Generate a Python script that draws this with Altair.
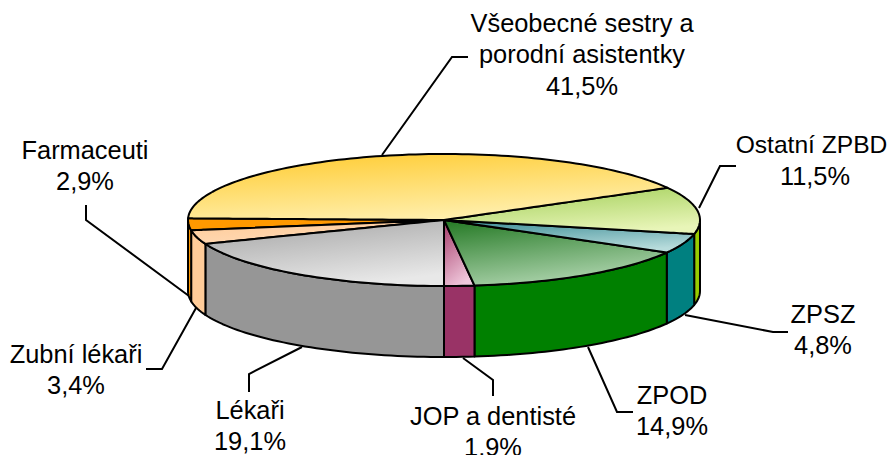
import math
import altair as alt
import pandas as pd

# ---- values ----
names = ["Všeobecné sestry a porodní asistentky", "Ostatní ZPBD", "ZPSZ", "ZPOD",
         "JOP a dentisté", "Lékaři", "Zubní lékaři", "Farmaceuti"]
shares = [41.5, 11.5, 4.8, 14.9, 1.9, 19.1, 3.4, 2.9]
share_labels = ["41,5%", "11,5%", "4,8%", "14,9%", "1,9%", "19,1%", "3,4%", "2,9%"]
wall_colors = ["#FFCC33", "#99CC00", "#008080", "#008000", "#993366", "#969696", "#FFCC99", "#FF9900"]
top_from = ["#FFCC33", "#A2CF58", "#3F8F98", "#2A7D2A", "#A8416E", "#A6A6A6", "#FFCC99", "#FF9900"]
top_to = ["#FFF0B0", "#E8F5B8", "#B8DCDC", "#B0D6B0", "#F0C8DC", "#E8E8E8", "#FFD9B5", "#FF9900"]

# ---- pie geometry (tilted disc) ----
CX, CY, RX, RY, DEPTH = 444.0, 220.0, 256.0, 66.0, 71.0
START_DEG = 271.44
LINE_W = 2.0


def pt(deg):
    r = math.radians(deg)
    return CX + RX * math.sin(r), CY - RY * math.cos(r)


def arc(a0, a1):
    n = max(2, int(abs(a1 - a0) / 1.5) + 2)
    return [pt(a0 + (a1 - a0) * i / (n - 1)) for i in range(n)]


def wedge_table(a0, a1):
    poly = [(CX, CY)] + arc(a0, a1)
    xs = sorted({round(p[0], 3) for p in poly})
    rows = []
    m = len(poly)
    for x in xs:
        ys = []
        for i in range(m):
            (x1, y1), (x2, y2) = poly[i], poly[(i + 1) % m]
            lo, hi = min(x1, x2) - 0.002, max(x1, x2) + 0.002
            if lo <= x <= hi:
                if abs(x2 - x1) < 1e-6:
                    ys += [y1, y2]
                else:
                    s = min(1, max(0, (x - x1) / (x2 - x1)))
                    ys.append(y1 + s * (y2 - y1))
        rows.append({"x": x, "y": min(ys), "y2": max(ys)})
    return pd.DataFrame(rows)


def wall_table(a0, a1):
    rows = [{"x": round(x, 3), "y": y, "y2": y + DEPTH} for x, y in arc(a0, a1)]
    return pd.DataFrame(rows)


# angles clockwise from the top of the disc
bounds = [START_DEG]
for s in shares:
    bounds.append(bounds[-1] + s * 3.6)

x_scale = alt.Scale(domain=[8, 887], range=[0, 879], nice=False, zero=False)
y_scale = alt.Scale(domain=[455, 8], range=[447, 0], nice=False, zero=False)
X = alt.X("x:Q", scale=x_scale, axis=None)
Y = alt.Y("y:Q", scale=y_scale, axis=None)

layers = []

# ---- leader lines ----
leaders = [
    [(382, 155), (452, 57), (468, 57)],
    [(699, 208), (720, 166), (736, 166)],
    [(685, 315), (773, 332), (788, 332)],
    [(588, 347), (617, 412), (633, 412)],
    [(463, 358), (493, 380), (493, 396)],
    [(302, 347), (249, 374), (249, 392)],
    [(196, 308), (162, 369), (146, 369)],
    [(189, 296), (86, 220), (86, 205)],
]
for pts in leaders:
    d = pd.DataFrame([{"x": a, "y": b, "i": i} for i, (a, b) in enumerate(pts)])
    layers.append(
        alt.Chart(d)
        .mark_line(color="black", strokeWidth=LINE_W)
        .encode(x=X, y=Y, order="i:Q")
    )

# ---- side walls: only the front half (90..270 deg) is seen ----
for i in range(len(shares)):
    for shift in (0, 360):
        a0 = max(bounds[i], 90 + shift)
        a1 = min(bounds[i + 1], 270 + shift)
        if a1 > a0:
            layers.append(
                alt.Chart(wall_table(a0, a1))
                .mark_area(orient="vertical", fill=wall_colors[i], stroke="black",
                           strokeWidth=LINE_W, strokeJoin="round")
                .encode(x=X, y=Y, y2="y2:Q")
            )

# ---- top faces ----
for i in [7, 6, 5, 4, 3, 2, 1, 0]:
    grad = alt.LinearGradient(
        gradient="linear",
        stops=[alt.GradientStop(color=top_from[i], offset=0),
               alt.GradientStop(color=top_to[i], offset=1)],
        x1=0.15, y1=0, x2=0.55, y2=1,
    )
    layers.append(
        alt.Chart(wedge_table(bounds[i], bounds[i + 1]))
        .mark_area(orient="vertical", fill=grad, stroke="black",
                   strokeWidth=LINE_W, strokeJoin="round")
        .encode(x=X, y=Y, y2="y2:Q")
    )

# ---- labels ----
label_lines = [
    ["Všeobecné sestry a", "porodní asistentky", share_labels[0]],
    [names[1], share_labels[1]],
    [names[2], share_labels[2]],
    [names[3], share_labels[3]],
    [names[4], share_labels[4]],
    [names[5], share_labels[5]],
    [names[6], share_labels[6]],
    [names[7], share_labels[7]],
]
label_x = [582, 815, 823, 672, 493, 250, 76, 85]
label_y = [24, 146, 315, 396, 417, 411, 355, 151]
rows = []
for lines, lx, ly in zip(label_lines, label_x, label_y):
    for k, t in enumerate(lines):
        # the long right-hand label is held inside the 887px page edge
        too_long = t == names[1]
        rows.append({"x": 811.5 if too_long else lx, "y": ly + k * 31.3, "t": t,
                     "fs": 24.6 if too_long else 25.4})
layers.append(
    alt.Chart(pd.DataFrame(rows))
    .mark_text(font="Liberation Sans", color="black", align="center", baseline="middle")
    .encode(x=X, y=Y, text="t:N", size=alt.Size("fs:Q", scale=None, legend=None))
)

chart = (
    alt.layer(*layers)
    .properties(width=879, height=447, padding=0, autosize=alt.AutoSizeParams(type="none"))
    .configure_view(stroke=None)
)
chart.save("out.html", embed_options={"renderer": "svg", "actions": False})
